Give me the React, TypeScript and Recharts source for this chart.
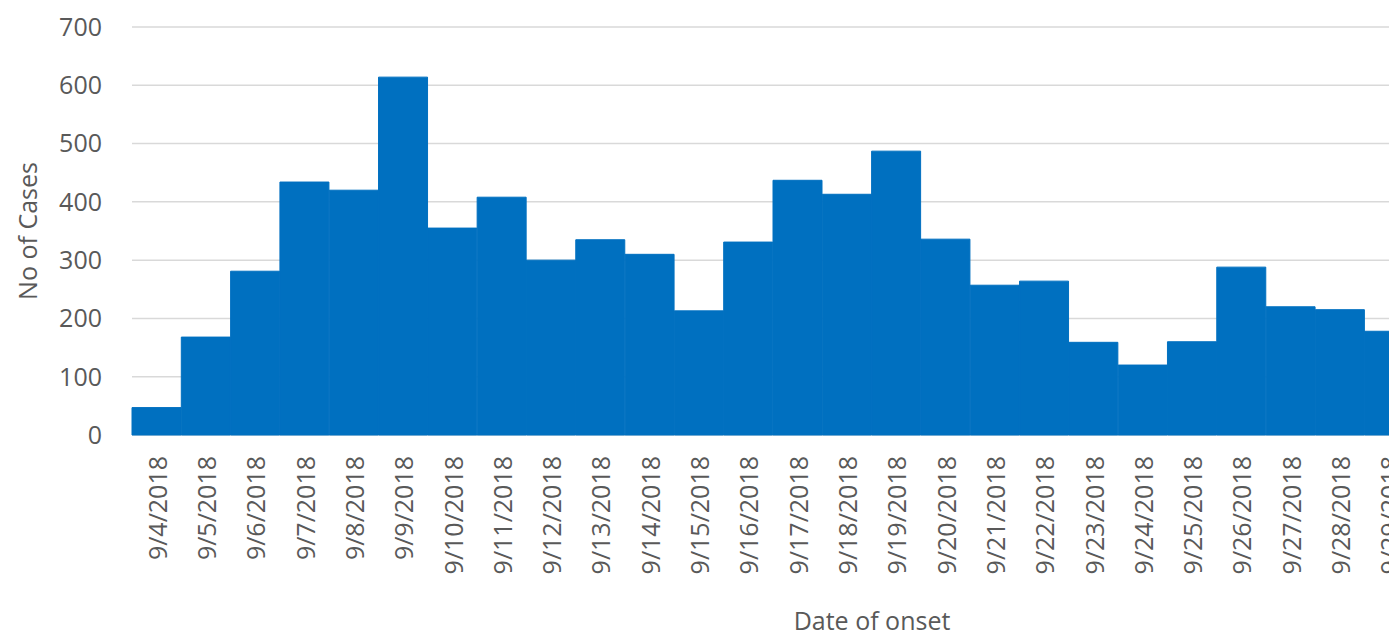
import React from 'react';
import { BarChart, Bar, XAxis, YAxis, CartesianGrid } from 'recharts';

const dates = [
  '9/4/2018', '9/5/2018', '9/6/2018', '9/7/2018', '9/8/2018', '9/9/2018', '9/10/2018',
  '9/11/2018', '9/12/2018', '9/13/2018', '9/14/2018', '9/15/2018', '9/16/2018', '9/17/2018',
  '9/18/2018', '9/19/2018', '9/20/2018', '9/21/2018', '9/22/2018', '9/23/2018', '9/24/2018',
  '9/25/2018', '9/26/2018', '9/27/2018', '9/28/2018', '9/29/2018',
];

const cases = [
  47, 168, 281, 434, 420, 614, 355, 408, 300, 335, 310, 213, 331,
  437, 413, 487, 336, 257, 264, 159, 120, 160, 288, 220, 215, 178,
];

const yTicks = [0, 100, 200, 300, 400, 500, 600, 700];

const data = dates.map((d, i) => ({ date: d, cases: cases[i] }));

const FONT = '"Open Sans", sans-serif';
const GREY = '#595959';
const BLUE = '#0070c0';

const DateTick = (props: any) => {
  const { x, payload } = props;
  const y = 456;
  return (
    <text
      x={x}
      y={y}
      transform={`rotate(-90 ${x} ${y})`}
      textAnchor="end"
      dominantBaseline="central"
      fontFamily={FONT}
      fontSize={25}
      fill={GREY}
    >
      {payload.value}
    </text>
  );
};

export default function App() {
  return (
    <div
      style={{
        position: 'absolute',
        left: 0,
        top: 0,
        width: 1389,
        height: 637,
        overflow: 'hidden',
        background: '#fff',
      }}
    >
      <BarChart
        width={1414}
        height={637}
        data={data}
        barCategoryGap={0}
        margin={{ top: 27, right: 0, left: 0, bottom: 0 }}
      >
        <CartesianGrid vertical={false} stroke="#d9d9d9" strokeWidth={1.5} />
        <XAxis
          dataKey="date"
          height={202}
          axisLine={false}
          tickLine={false}
          tickSize={0}
          interval={0}
          tick={<DateTick />}
          label={{
            content: () => (
              <text
                x={872}
                y={620}
                textAnchor="middle"
                dominantBaseline="central"
                fontFamily={FONT}
                fontSize={25}
                fill={GREY}
              >
                Date of onset
              </text>
            ),
          }}
        />
        <YAxis
          width={132}
          domain={[0, 700]}
          ticks={yTicks}
          axisLine={false}
          tickLine={false}
          tickSize={0}
          tickMargin={30}
          tick={{ fontFamily: FONT, fontSize: 25, fill: GREY }}
          label={{
            content: () => (
              <text
                x={27}
                y={231}
                transform="rotate(-90 27 231)"
                textAnchor="middle"
                dominantBaseline="central"
                fontFamily={FONT}
                fontSize={25}
                fill={GREY}
              >
                No of Cases
              </text>
            ),
          }}
        />
        <Bar dataKey="cases" fill={BLUE} stroke={BLUE} strokeWidth={1} isAnimationActive={false} />
      </BarChart>
    </div>
  );
}
